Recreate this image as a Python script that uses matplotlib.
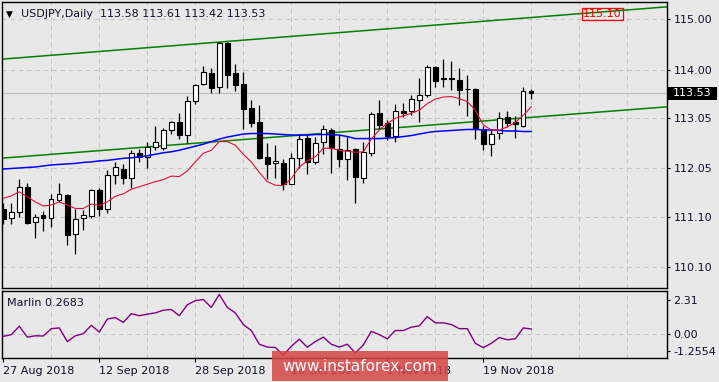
import matplotlib
matplotlib.use('Agg')
import matplotlib.pyplot as plt
import matplotlib.transforms as mtransforms
from matplotlib.patches import Rectangle

# ---------------- data ----------------
opens = [111.26, 111.07, 111.20, 111.68, 110.99, 111.13, 111.08, 111.43, 111.52, 110.75,
         111.07, 111.12, 111.63, 111.26, 111.93, 112.03, 111.86, 112.35, 112.27, 112.47,
         112.45, 112.80, 112.96, 112.72, 113.39, 113.72, 113.93, 113.65, 114.53, 113.93,
         113.72, 113.24, 112.97, 112.27, 112.15, 112.16, 111.75, 112.25, 112.66, 112.18,
         112.58, 112.80, 112.43, 112.23, 112.43, 111.87, 112.35, 113.14, 112.94, 112.70,
         113.18, 113.18, 113.41, 113.50, 114.06, 113.83, 113.83, 113.79, 113.62, 113.62,
         112.82, 112.53, 112.76, 113.06, 112.96, 112.89, 113.58]
highs = [111.36, 111.36, 111.84, 111.76, 111.15, 111.21, 111.55, 111.76, 111.54, 111.25,
         111.23, 111.64, 111.66, 112.02, 112.18, 112.13, 112.41, 112.43, 112.57, 112.89,
         112.84, 112.99, 113.14, 113.48, 113.72, 114.07, 114.03, 114.54, 114.54, 114.11,
         113.95, 113.40, 113.30, 112.55, 112.51, 112.24, 112.35, 112.74, 112.73, 112.67,
         112.91, 112.84, 112.71, 112.67, 112.45, 112.58, 113.17, 113.40, 113.01, 113.33,
         113.35, 113.51, 113.83, 114.09, 114.07, 114.22, 114.17, 114.03, 113.89, 113.63,
         112.89, 112.82, 113.16, 113.19, 113.08, 113.65, 113.61]
lows = [110.95, 110.95, 111.10, 110.96, 110.68, 110.82, 110.89, 111.38, 110.53, 110.37,
        110.84, 111.07, 111.12, 111.18, 111.75, 111.75, 111.67, 112.18, 112.05, 112.42,
        112.41, 112.74, 112.64, 112.56, 113.33, 113.70, 113.53, 113.53, 113.64, 113.57,
        112.82, 112.87, 112.24, 111.84, 111.87, 111.63, 111.74, 112.05, 111.95, 112.14,
        112.34, 111.97, 112.08, 111.83, 111.37, 111.77, 112.30, 112.83, 112.61, 112.57,
        113.07, 113.10, 112.96, 113.46, 113.65, 113.66, 113.59, 113.30, 113.09, 112.64,
        112.41, 112.30, 112.63, 112.86, 112.66, 112.87, 113.42]
closes = [111.06, 111.20, 111.68, 110.98, 111.09, 111.08, 111.44, 111.54, 110.74, 111.05,
          111.14, 111.62, 111.26, 111.93, 112.07, 111.86, 112.35, 112.28, 112.48, 112.58,
          112.80, 112.96, 112.71, 113.38, 113.69, 113.95, 113.64, 114.53, 113.90, 113.70,
          113.23, 112.95, 112.25, 112.14, 112.19, 111.75, 112.25, 112.64, 112.18, 112.55,
          112.82, 112.45, 112.24, 112.41, 111.89, 112.38, 113.12, 112.91, 112.70, 113.18,
          113.15, 113.43, 113.51, 114.06, 113.78, 113.81, 113.81, 113.59, 113.62, 112.82,
          112.54, 112.74, 113.04, 112.94, 112.93, 113.57, 113.53]

ma_fast = [111.46, 111.51, 111.59, 111.49, 111.39, 111.31, 111.33, 111.39, 111.33, 111.26,
           111.26, 111.35, 111.32, 111.39, 111.50, 111.55, 111.64, 111.69, 111.74, 111.79,
           111.83, 111.90, 111.89, 112.00, 112.18, 112.35, 112.41, 112.58, 112.58, 112.51,
           112.33, 112.18, 111.97, 111.79, 111.72, 111.71, 111.85, 112.08, 112.20, 112.28,
           112.45, 112.45, 112.41, 112.39, 112.37, 112.38, 112.63, 112.81, 112.94, 113.04,
           113.09, 113.14, 113.20, 113.33, 113.42, 113.46, 113.47, 113.43, 113.37, 113.20,
           112.91, 112.81, 112.81, 112.87, 112.96, 113.10, 113.27]
ma_slow = [112.04, 112.05, 112.06, 112.07, 112.08, 112.10, 112.12, 112.13, 112.14, 112.15,
           112.17, 112.18, 112.20, 112.21, 112.23, 112.25, 112.26, 112.28, 112.30, 112.33,
           112.36, 112.38, 112.41, 112.45, 112.49, 112.53, 112.58, 112.63, 112.67, 112.70,
           112.73, 112.74, 112.74, 112.74, 112.73, 112.72, 112.71, 112.71, 112.71, 112.72,
           112.72, 112.72, 112.71, 112.68, 112.64, 112.64, 112.64, 112.64, 112.65, 112.66,
           112.68, 112.70, 112.73, 112.76, 112.78, 112.79, 112.80, 112.81, 112.82, 112.82,
           112.81, 112.81, 112.80, 112.79, 112.79, 112.78, 112.78]
marlin = [-0.12, -0.03, 0.42, -0.16, -0.09, -0.10, 0.29, 0.33, -0.40, -0.09,
          0.02, 0.47, 0.11, 0.80, 0.88, 0.62, 1.09, 0.98, 1.06, 1.13,
          1.27, 1.31, 0.98, 1.56, 1.78, 1.84, 1.42, 2.11, 1.42, 1.13,
          0.51, 0.19, -0.54, -0.69, -0.71, -1.12, -0.65, -0.27, -0.70, -0.40,
          -0.16, -0.54, -0.69, -0.54, -1.00, -0.58, 0.15, -0.03, -0.25, 0.19,
          0.19, 0.37, 0.44, 0.93, 0.60, 0.60, 0.51, 0.29, 0.29, -0.49,
          -0.72, -0.49, -0.18, -0.30, -0.25, 0.33, 0.2683]

# trend channel anchors (bar index, price)
upper_channel = [(0, 114.21), (66, 115.03)]
lower_channel = [(0, 112.256), (66, 113.06)]

price_ticks = [115.00, 114.00, 113.05, 112.05, 111.10, 110.10]
date_labels = ['27 Aug 2018', '12 Sep 2018', '28 Sep 2018', '16 Oct 2018', '1 Nov 2018', '19 Nov 2018']
date_bars = [0, 12, 24, 36, 48, 60]
grid_bars = list(range(6, 84, 6))
last_price = 113.53
marker_price = 115.10
marlin_min, marlin_max = -1.2554, 2.31

# ---------------- styling ----------------
BG = '#E8E8E8'
GRID = '#C4C4C4'
TXT = '#10102A'
plt.rcParams['font.family'] = ['DejaVu Sans']

W, H = 719, 382
fig = plt.figure(figsize=(W / 100, H / 100), dpi=100, facecolor=BG)

def fx(px):
    return px / W

def fy(py):
    return 1 - py / H

ax = fig.add_axes([fx(2), fy(288), fx(666.5) - fx(2), fy(2) - fy(288)], facecolor=BG)
ax2 = fig.add_axes([fx(2), fy(357.7), fx(666.5) - fx(2), fy(290.7) - fy(357.7)], facecolor=BG)

xmin, xmax = -0.1625, 82.9
for a in (ax, ax2):
    a.set_xlim(xmin, xmax)
    for s in a.spines.values():
        s.set_color('black')
        s.set_linewidth(1.0)
ax.set_ylim(109.691, 115.336)
ax2.set_ylim(marlin_min, marlin_max)

# grids
dash = (0, (4, 4))
for b in grid_bars:
    ax.axvline(b, color=GRID, lw=0.75, ls=dash, zorder=0)
    ax2.axvline(b, color=GRID, lw=0.75, ls=dash, zorder=0)
for p in price_ticks:
    ax.axhline(p, color=GRID, lw=0.75, ls=dash, zorder=0)
ax2.axhline(0.0, color=GRID, lw=0.75, ls=dash, zorder=0)
ax.axhline(last_price, color='#C0C0C0', lw=0.9, zorder=0.5)

# channel lines
ax.axline(upper_channel[0], upper_channel[1], color='#008000', lw=1.1, zorder=2)
ax.axline(lower_channel[0], lower_channel[1], color='#008000', lw=1.1, zorder=2)

# candles
n = len(opens)
idx = list(range(n))
ax.vlines(idx, lows, highs, color='black', lw=0.9, zorder=3)
bottoms = [min(o, c) for o, c in zip(opens, closes)]
heights = [abs(c - o) for o, c in zip(opens, closes)]
colors = ['white' if c >= o else 'black' for o, c in zip(opens, closes)]
ax.bar(idx, heights, bottom=bottoms, width=0.55, color=colors, edgecolor='black',
       linewidth=0.8, zorder=4)

# moving averages
ax.plot(idx, ma_slow, color='#0000FF', lw=1.1, zorder=5)
ax.plot(idx, ma_fast, color='#E0103C', lw=0.8, zorder=5)

# right axis ticks
ax.yaxis.tick_right()
ax.set_yticks(price_ticks)
ax.set_yticklabels(['%.2f' % p for p in price_ticks])
ax.tick_params(axis='y', direction='out', length=2.5, width=0.8, pad=2.5,
               labelsize=8, labelcolor=TXT, color='black')
ax.set_xticks([])

# last price label
tr = mtransforms.blended_transform_factory(fig.transFigure, ax.transData)
ax.add_patch(Rectangle((fx(668), last_price - 0.125), fx(717) - fx(668), 0.25,
                       transform=tr, facecolor='black', edgecolor='none', clip_on=False, zorder=10))
ax.text(fx(692.5), last_price, '%.2f' % last_price, transform=tr, color='white', fontsize=8,
        ha='center', va='center', clip_on=False, zorder=11)

# 115.10 marker label
ax.text(74.9, marker_price, '%.2f' % marker_price, color='red', fontsize=8, ha='center', va='center',
        bbox=dict(boxstyle='square,pad=0.12', fc='none', ec='red', lw=0.9), zorder=6)

# title
fig.text(fx(6), fy(16.5), '\u25BC', fontsize=6.5, color='black', va='baseline')
fig.text(fx(21), fy(17.3), 'USDJPY,Daily  %.2f %.2f %.2f %.2f' % (opens[-1], highs[-1], lows[-1], closes[-1]),
         fontsize=8, color=TXT, va='baseline')

# indicator
ax2.plot(idx, marlin, color='#800080', lw=1.0, zorder=3)
ax2.yaxis.tick_right()
ax2.set_yticks([1.815, 0.0, -0.899])
ax2.set_yticklabels(['%.2f' % marlin_max, '0.00', '%.4f' % marlin_min])
ax2.tick_params(axis='y', direction='out', length=2.5, width=0.8, pad=2.5,
                labelsize=8, labelcolor=TXT, color='black')
ax2.set_xticks(date_bars)
ax2.set_xticklabels([])
ax2.tick_params(axis='x', direction='out', length=3, width=0.8, color='black')
fig.text(fx(7.3), fy(305.7), 'Marlin %.4f' % marlin[-1], fontsize=8, color=TXT, va='baseline')

# date labels
trd = mtransforms.blended_transform_factory(ax2.transData, fig.transFigure)
for b, lab in zip(date_bars, date_labels):
    ax2.text(b - 0.05, fy(374.3), lab, transform=trd, fontsize=8, color=TXT,
             ha='left', va='baseline', clip_on=False)

# watermark
fig.patches.append(Rectangle((fx(271.7), fy(381)), fx(448.3) - fx(271.7), fy(350.7) - fy(381),
                             transform=fig.transFigure, facecolor=(0.84, 0.27, 0.27, 0.85),
                             edgecolor='none', zorder=20))
t = fig.text(fx(360), fy(371), 'www.instaforex.com', fontsize=11, color='white',
             ha='center', va='baseline', zorder=21)

fig.savefig('out.png', dpi=100, facecolor=BG)
